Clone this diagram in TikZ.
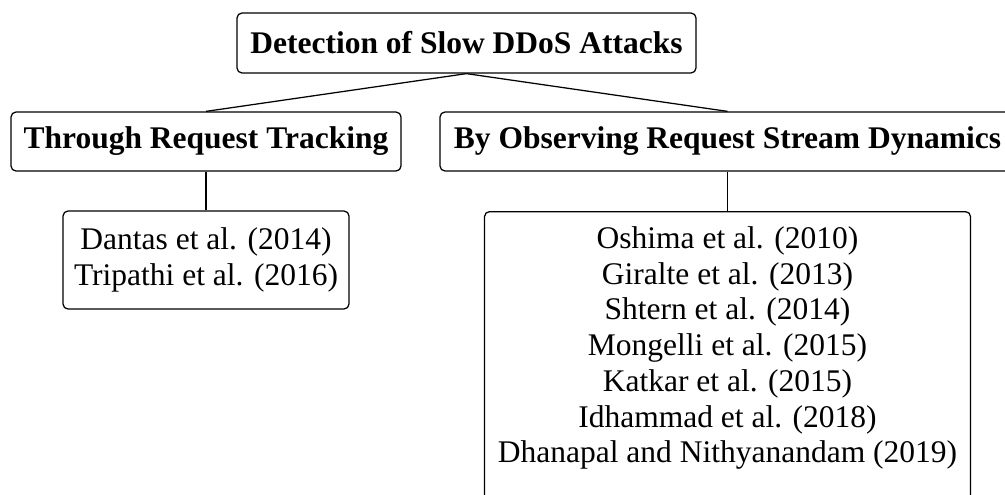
\documentclass[tikz,border=0pt]{standalone}
\usepackage{fontspec}
\setmainfont{Liberation Serif}
\begin{document}
\begin{tikzpicture}[x=0.4pt, y=-0.4pt,
  every node/.style={font=\fontsize{12.6}{14.3}\selectfont},
  box/.style={draw, rounded corners=2pt, line width=0.5pt, inner sep=0pt, align=center},
  head/.style={box, font=\fontsize{12.6}{14.3}\selectfont\bfseries},
  link/.style={line width=0.5pt}]
  \useasboundingbox (0,0) rectangle (1005,494);
  \clip (0,0) rectangle (1005,494);

  % category headings
  \node[head, minimum width=183.6pt, minimum height=24pt] (root) at (466.5,43) {Detection of Slow DDoS Attacks};
  \node[head, minimum width=156pt, minimum height=23.6pt] (track) at (206,141.5) {Through Request Tracking};
  \node[head, minimum width=230pt, minimum height=23.6pt] (stream) at (727.5,141.5) {By Observing Request Stream Dynamics};

  % literature lists
  \node[box, minimum width=114.4pt, minimum height=39.2pt] (trackrefs) at (206,260)
    {Dantas et al. (2014)\\Tripathi et al. (2016)};
  \node[box, minimum width=194.4pt, minimum height=115.6pt, anchor=north] (streamrefs) at (727.5,211) {};
  \node[align=center, inner sep=0pt] (streamtext) at (727.5,348)
    {Oshima et al. (2010)\\Giralte et al. (2013)\\Shtern et al. (2014)\\Mongelli et al. (2015)\\Katkar et al. (2015)\\Idhammad et al. (2018)\\Dhanapal and Nithyanandam (2019)};

  % tree connectors
  \draw[link] (root.south) -- (track.north);
  \draw[link] (root.south) -- (stream.north);
  \draw[link] (track.south) -- (trackrefs.north);
  \draw[link] (stream.south) -- (streamrefs.north);
\end{tikzpicture}
\end{document}
